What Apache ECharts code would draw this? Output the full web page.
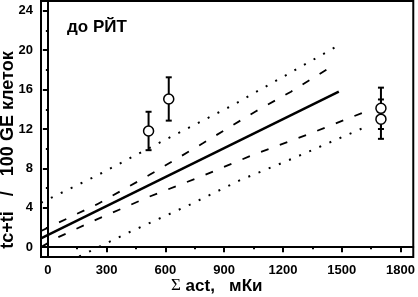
<!DOCTYPE html>
<html>
<head>
<meta charset="utf-8">
<script src="https://cdn.jsdelivr.net/npm/echarts@6/dist/echarts.min.js"></script>
<style>
  html, body { margin: 0; padding: 0; background: #fff; }
  #chart { width: 418px; height: 297px; }
</style>
</head>
<body>
<div id="chart"></div>
<script>
// measured points: Σ act (mKi) -> tc+ti / 100 GE
var pointX = [514, 617, 1700, 1700];
var pointY = [11.8, 15.05, 14.1, 13.0];
var pointErr = [1.95, 2.2, 2.1, 2.0];

// regression line and its bands
var fitLine = [[-35, 0.9], [1485, 15.8]];
var confUpper = [[-35, 1.64], [250, 4.34], [517, 7.32], [791, 10.55], [1058, 13.76], [1241, 15.79], [1445, 18.3]];
var confLower = [[-35, 0.0], [51, 0.99], [250, 2.82], [517, 5.12], [787, 7.22], [1058, 9.46], [1333, 11.49], [1617, 13.73]];
var predUpper = [[-35, 4.51], [245, 7.22], [564, 10.55], [936, 14.34], [1202, 17.32], [1467, 20.31]];
var predLower = [[160, -0.95], [402, 1.39], [720, 4.27], [982, 6.81], [1252, 9.02], [1467, 10.88], [1624, 12.23]];

var xTicks = [0, 300, 600, 900, 1200, 1500, 1800];
var xMinor = [150, 450, 750, 1050, 1350, 1650];
var yTicks = [0, 4, 8, 12, 16, 20, 24];
var yMinor = [2, 6, 10, 14, 18, 22];

var font = 'Liberation Sans, Arial, sans-serif';

var chart = echarts.init(document.getElementById('chart'));

function bandLine(data, type, width) {
  return {
    type: 'line',
    data: data,
    showSymbol: false,
    silent: true,
    lineStyle: { color: '#000', width: width, type: type },
    z: 3
  };
}

chart.setOption({
  animation: false,
  title: {
    text: 'до РЙТ',
    left: 62,
    top: 14,
    textStyle: { fontFamily: font, fontSize: 17, fontWeight: 'bold', color: '#000' }
  },
  grid: {
    left: 41, right: 2, top: 1, bottom: 40,
    show: true, borderColor: '#000', borderWidth: 2
  },
  xAxis: [{
    type: 'value', min: -35, max: 1865,
    axisLine: { lineStyle: { color: '#000', width: 2 } },
    axisTick: { customValues: xTicks, length: 5, lineStyle: { color: '#000', width: 2 } },
    axisLabel: {
      customValues: xTicks, margin: 7, color: '#000', fontFamily: font, fontSize: 13, fontWeight: 'bold',
      formatter: function (v) { return String(v); }
    },
    splitLine: { show: false }
  }, {
    type: 'value', min: -35, max: 1865, position: 'bottom',
    axisLine: { show: false },
    axisTick: { customValues: xMinor, length: 2, lineStyle: { color: '#000', width: 2 } },
    axisLabel: { show: false },
    splitLine: { show: false }
  }],
  yAxis: [{
    type: 'value', min: -1, max: 25,
    axisLine: { lineStyle: { color: '#000', width: 2 } },
    axisTick: { customValues: yTicks, length: 5, lineStyle: { color: '#000', width: 2 } },
    axisLabel: { customValues: yTicks, margin: 8, color: '#000', fontFamily: font, fontSize: 13, fontWeight: 'bold' },
    splitLine: { show: false }
  }, {
    type: 'value', min: -1, max: 25, position: 'left',
    axisLine: { show: false },
    axisTick: { customValues: yMinor, length: 2, lineStyle: { color: '#000', width: 2 } },
    axisLabel: { show: false },
    splitLine: { show: false }
  }],
  graphic: [{
    type: 'text',
    x: 8, y: 150,
    rotation: Math.PI / 2,
    style: {
      text: 'tc+ti   /   100 GE клеток',
      font: 'bold 18px ' + font,
      fill: '#000',
      align: 'center',
      verticalAlign: 'middle'
    }
  }, {
    type: 'text',
    x: 171, y: 286,
    style: {
      text: '{s|Σ} act,   мКи',
      font: 'bold 17px ' + font,
      fill: '#000',
      align: 'left',
      verticalAlign: 'middle',
      rich: {
        s: { fontFamily: 'Liberation Serif, Times New Roman, serif', fontWeight: 'normal', fontSize: 17 }
      }
    }
  }],
  series: [
    bandLine(predUpper, [2, 9], 2),
    bandLine(predLower, [2, 9], 2),
    bandLine(confUpper, [8, 12], 1.8),
    bandLine(confLower, [8, 12], 1.8),
    bandLine(fitLine, 'solid', 2.5),
    {
      type: 'custom',
      data: pointX.map(function (x, i) { return [x, pointY[i] - pointErr[i], pointY[i] + pointErr[i]]; }),
      encode: { x: 0, y: [1, 2] },
      z: 4,
      renderItem: function (params, api) {
        var lo = api.coord([api.value(0), api.value(1)]);
        var hi = api.coord([api.value(0), api.value(2)]);
        var w = 3;
        var st = { stroke: '#000', lineWidth: 2 };
        return {
          type: 'group',
          children: [
            { type: 'line', shape: { x1: lo[0], y1: lo[1], x2: hi[0], y2: hi[1] }, style: st },
            { type: 'line', shape: { x1: lo[0] - w, y1: lo[1], x2: lo[0] + w, y2: lo[1] }, style: st },
            { type: 'line', shape: { x1: hi[0] - w, y1: hi[1], x2: hi[0] + w, y2: hi[1] }, style: st }
          ]
        };
      }
    },
    {
      type: 'scatter',
      data: pointX.map(function (x, i) { return [x, pointY[i]]; }),
      symbol: 'circle',
      symbolSize: 10,
      z: 5,
      itemStyle: { color: '#fff', borderColor: '#000', borderWidth: 1.5, opacity: 1 }
    }
  ]
});
</script>
</body>
</html>
